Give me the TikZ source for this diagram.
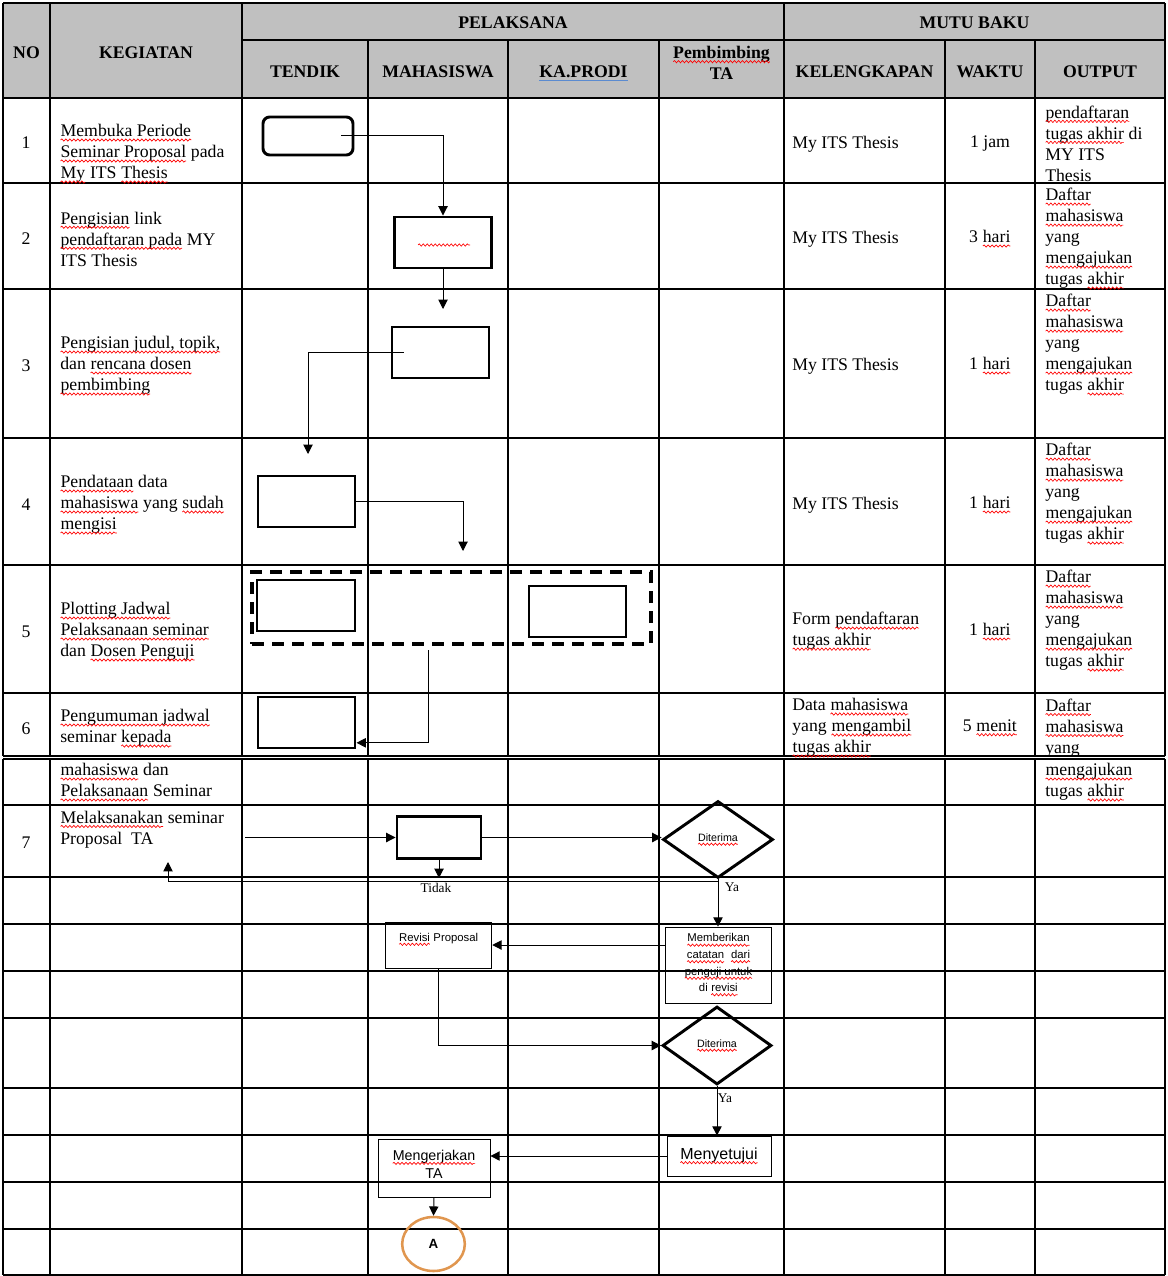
\documentclass[tikz,border=0pt]{standalone}
\usepackage{fontspec}
\setmainfont{Liberation Serif}
\setsansfont{Liberation Sans}
\usetikzlibrary{shapes.geometric, arrows.meta, positioning, decorations.pathmorphing}

\definecolor{headgray}{HTML}{C0C0C0}
\definecolor{circorange}{HTML}{E0964F}
\definecolor{kpblue}{HTML}{5B8BD0}

\newcommand\squig[1]{\tikz[baseline=(sq.base)]{\node[rectangle, draw=none, fill=none, inner sep=0pt, outer sep=0pt, minimum width=0pt, minimum height=0pt, text depth={}, text height={}, anchor=center, yshift=0pt] (sq) {#1};
  \draw[red, line width=0.5pt, decorate, decoration={snake, amplitude=0.85pt, segment length=3pt}] ([yshift=-2.4pt]sq.base west) -- ([yshift=-2.4pt]sq.base east);}}

\begin{document}
\begin{tikzpicture}[
	  x=0.75pt, y=-0.75pt,
	  cell/.style={font=\fontsize{13.3}{15.75}\selectfont, align=left, anchor=west, inner sep=0pt, yshift=-1.5pt},
	  numcell/.style={font=\fontsize{13.3}{15.75}\selectfont, inner sep=0pt, yshift=-1.5pt},
	  head/.style={font=\bfseries\fontsize{13.3}{15.75}\selectfont, align=center, inner sep=0pt, yshift=-1pt},
	  tline/.style={line width=0.8pt},
	  process/.style={rectangle, draw=black, line width=2.2pt, minimum width=72.75pt, minimum height=38.25pt},
	  startstop/.style={process, rounded corners=5pt, minimum width=67.5pt, minimum height=28.5pt},
	  groupbox/.style={rectangle, draw=black, line width=2.3pt, dash pattern=on 9pt off 6pt},
	  note/.style={rectangle, draw=black, line width=0.6pt, align=center, inner sep=2pt, font=\sffamily\fontsize{8.5}{12.4}\selectfont},
	  decision/.style={diamond, draw=black, line width=2.2pt, inner sep=0pt, minimum width=82.5pt, minimum height=57.75pt, font=\sffamily\fontsize{8}{10}\selectfont},
	  connect/.style={ellipse, draw=circorange, line width=1.9pt, minimum width=47pt, minimum height=40.5pt, font=\sffamily\bfseries\fontsize{10}{12}\selectfont},
	  lbl/.style={font=\fontsize{10}{12}\selectfont, inner sep=1pt},
	  arrow/.style={line width=0.75pt, -{Triangle[length=7pt,width=7pt]}}
	]

	\useasboundingbox (0,0) rectangle (1167,1276);

	% table
	\fill [headgray] (3,3) rectangle (1165,98);
	\draw [tline] (242,40) -- (1165,40);
	\foreach \y in {3,98,183,289,438,565,693,756,759,805,877,924,971,1018,1088,1135,1182,1229,1275}
	  \draw [tline] (3,\y) -- (1165,\y);
	\foreach \x in {3,50,242,784,1165}
	  \draw [tline] (\x,3) -- (\x,756) (\x,759) -- (\x,1275);
	\foreach \x in {368,508,659,945,1035}
	  \draw [tline] (\x,40) -- (\x,756) (\x,759) -- (\x,1275);

	\node (hno) [head] at (26.5,51) {NO};
	\node (hkeg) [head] at (146,51) {KEGIATAN};
	\node (hpel) [head] at (513,21) {PELAKSANA};
	\node (hmutu) [head] at (974.5,21) {MUTU BAKU};
	\node (htendik) [head] at (305,70) {TENDIK};
	\node (hmhs) [head] at (438,70) {MAHASISWA};
	\node (hkaprodi) [head] at (583.5,70) {KA.PRODI};
	\draw [kpblue, line width=1.3pt] ([yshift=-2.5pt]hkaprodi.base west) -- ([yshift=-2.5pt]hkaprodi.base east);
	\node (hpemb) [head] at (721.5,61.5) {\squig{Pembimbing}\\TA};
	\node (hkel) [head] at (864.5,70) {KELENGKAPAN};
	\node (hwaktu) [head] at (990,70) {WAKTU};
	\node (hout) [head] at (1100,70) {OUTPUT};

	\foreach \n/\y in {1/141,2/237,3/364,4/503,5/630,6/727,7/841}
	  \node (no\n) [numcell] at (26,\y) {\n};

	\node (keg1) [cell] at (60,152) {\squig{Membuka Periode}\\\squig{Seminar Proposal} pada\\\squig{My} ITS \squig{Thesis}};
	\node (keg2) [cell] at (60,237) {\squig{Pengisian} link\\\squig{pendaftaran pada} MY\\ITS Thesis};
	\node (keg3) [cell] at (60,364) {\squig{Pengisian judul, topik,}\\dan \squig{rencana dosen}\\\squig{pembimbing}};
	\node (keg4) [cell] at (60,503) {\squig{Pendataan} data\\\squig{mahasiswa} yang \squig{sudah}\\\squig{mengisi}};
	\node (keg5) [cell] at (60,630) {\squig{Plotting Jadwal}\\\squig{Pelaksanaan seminar}\\dan \squig{Dosen Penguji}};
	\node (keg6) [cell] at (60,726.5) {\squig{Pengumuman jadwal}\\seminar \squig{kepada}};
	\node (keg6b) [cell] at (60,780.5) {\squig{mahasiswa} dan\\\squig{Pelaksanaan} Seminar};
	\node (keg7) [cell] at (60,827.5) {\squig{Melaksanakan} seminar\\Proposal~~TA};

	\foreach \n/\y in {1/142,2/237,3/364,4/503}
	  \node (kel\n) [cell] at (792,\y) {My ITS Thesis};
	\node (kel5) [cell] at (792,629.5) {Form \squig{pendaftaran}\\\squig{tugas akhir}};
	\node (kel6) [cell] at (792,726) {Data \squig{mahasiswa}\\yang \squig{mengambil}\\\squig{tugas akhir}};

	\foreach \n/\y/\t in {1/142/{1 jam},2/237/{3 \squig{hari}},3/364/{1 \squig{hari}},4/503/{1 \squig{hari}},5/630/{1 \squig{hari}},6/726/{5 \squig{menit}}}
	  \node (wkt\n) [numcell] at (990,\y) {\t};

	\node (out1) [cell] at (1045,141.5) {\squig{pendaftaran}\\\squig{tugas akhir} di\\MY ITS\\Thesis};
	\foreach \n/\y in {2/237,3/343,4/492,5/619}
	  \node (out\n) [cell] at (1045,\y) {\squig{Daftar}\\\squig{mahasiswa}\\yang\\\squig{mengajukan}\\tugas \squig{akhir}};
	\node (out6) [cell] at (1045,726) {\squig{Daftar}\\\squig{mahasiswa}\\yang};
	\node (out6b) [cell] at (1045,780.5) {\squig{mengajukan}\\tugas \squig{akhir}};

	% flow
	\node (buka) [startstop] at (308,136) {};
	\node (isilink) [process] at (443,242.5) {};
	\draw [red, line width=0.5pt, decorate, decoration={snake, amplitude=0.85pt, segment length=3pt}] (418,245) -- (470,245);
	\node (isijudul) [process] at (440.5,352.5) {};
	\node (pendataan) [process] at (306.5,501.5) {};
	\node (grupplot) [groupbox, minimum width=299.25pt, minimum height=54pt] at (451.5,608) {};
	\node (plotA) [process, minimum width=73.5pt] at (306,605.5) {};
	\node (plotB) [process] at (577.5,611.5) {};
	\node (jadwal) [process] at (306.5,722.5) {};
	\node (seminar) [process, minimum width=63pt, minimum height=32pt] at (439,837.5) {};
	\node (diterima1) [decision] at (718,839.5) {\squig{Diterima}};
	\node (catatan) [note, minimum width=80pt, minimum height=57pt] at (718.5,965) {\squig{Memberikan}\\\squig{catatan}~ \squig{dari}\\\squig{penguji untuk}\\di \squig{revisi}};
	\node (revisi) [note, minimum width=80pt, minimum height=34.5pt, text depth=12pt] at (438.5,945) {\squig{Revisi} Proposal};
	\node (diterima2) [decision, minimum width=81.75pt, minimum height=58.5pt] at (717,1045.5) {\squig{Diterima}};
	\node (setuju) [note, minimum width=78pt, minimum height=30pt, font=\sffamily\fontsize{12}{14}\selectfont] at (719,1156) {\squig{Menyetujui}};
	\node (kerjakan) [note, minimum width=84pt, minimum height=43.5pt, text depth=6pt, font=\sffamily\fontsize{10.7}{13.5}\selectfont] at (434,1168) {\squig{Mengerjakan}\\TA};
	\node (konektor) [connect] at (433.5,1244) {A};

	\coordinate (t2) at (443,309);
	\coordinate (t3) at (308,454);
	\coordinate (t4) at (463,551);
	\coordinate (s5) at (428,650);
	\coordinate (s7) at (245,837.5);
	\coordinate (t7) at (439,878);
	\coordinate (t8) at (168,862);

	\node (tidak) [lbl] at (436,888) {Tidak};
	\node (ya1) [lbl] at (732,887) {Ya};
	\node (ya2) [lbl] at (725,1098) {Ya};

	\draw [arrow] ([xshift=-10pt]buka.east) -| (isilink.north);
	\draw [arrow] (isilink.south) -- (t2);
	\draw [arrow] ([xshift=10pt]isijudul.west) -| (t3);
	\draw [arrow] (pendataan.east) -| (t4);
	\draw [arrow] (s5) |- ([yshift=5pt]jadwal.south east);
	\draw [arrow] (s7) -- (seminar.west);
	\draw [arrow] (seminar.east) -- (seminar.east -| diterima1.west);
	\draw [arrow] (seminar.south) -- (t7);
	\draw [arrow] ([yshift=-1.5pt]diterima1.south) -| (t8);
	\draw [arrow] (diterima1.south) -- (diterima1.south |- catatan.north);
	\draw [arrow] (catatan.west |- revisi.east) -- (revisi.east);
	\draw [arrow] (revisi.south) |- (diterima2.west);
	\draw [arrow] (diterima2.south) -- (diterima2.south |- setuju.north);
	\draw [arrow] (setuju.west) -- (setuju.west -| kerjakan.east);
	\draw [arrow] (kerjakan.south) -- (konektor.north);

	\end{tikzpicture}
\end{document}
